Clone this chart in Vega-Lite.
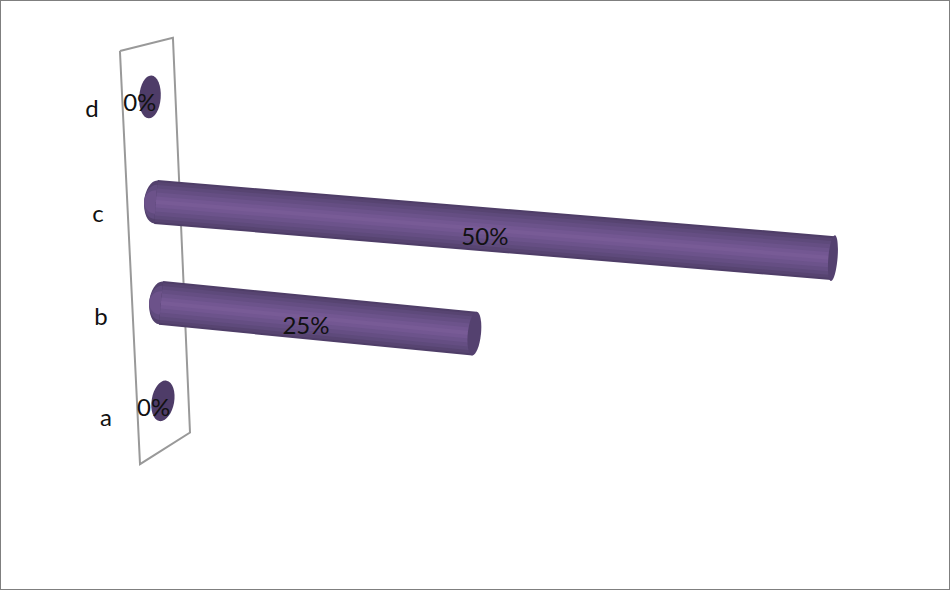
{
"$schema":"https://vega.github.io/schema/vega-lite/v6.json",
"width":950,"height":590,
"autosize":{"type":"fit","contains":"padding"},
"padding":0,
"background":"white",
"config":{"view":{"stroke":"#7f7f7f","strokeWidth":2}},
"datasets":{
"wall":[{"o":1,"x":-2.20,"y":4.48},{"o":2,"x":1.68,"y":4.61},{"o":3,"x":2.93,"y":0.74},{"o":4,"x":-0.73,"y":0.43},{"o":5,"x":-2.20,"y":4.48}],
"bars":[{"category":"c","value":50,"part":"start","x":0.44,"y":3.00},{"category":"c","value":50,"part":"end","x":50.00,"y":2.45},{"category":"b","value":25,"part":"start","x":0.81,"y":2.01},{"category":"b","value":25,"part":"end","x":23.75,"y":1.71}],
"discs":[{"category":"d","value":0,"x":0,"y":4.03},{"category":"a","value":0,"x":0.95,"y":1.05}],
"cats":[{"category":"d","x":-4.25,"y":3.90},{"category":"c","x":-3.81,"y":2.87},{"category":"b","x":-3.59,"y":1.86},{"category":"a","x":-3.22,"y":0.87}],
"pcts":[{"label":"50%","x":24.52,"y":2.65},{"label":"25%","x":11.42,"y":1.77},{"label":"0%","x":-0.75,"y":3.96},{"label":"0%","x":0.27,"y":0.97}]
},
"encoding":{
"x":{"field":"x","type":"quantitative","axis":null,"scale":{"domain":[-10.98,58.57],"nice":false,"zero":false}},
"y":{"field":"y","type":"quantitative","axis":null,"scale":{"domain":[-0.804,4.98],"nice":false,"zero":false}}
},
"layer":[
{"data":{"name":"wall"},"mark":{"type":"line","stroke":"#999999","strokeWidth":2},"encoding":{"order":{"field":"o"}}},
{"data":{"name":"discs"},"transform":[{"filter":"datum.category=='d'"}],"mark":{"type":"point","filled":true,"opacity":1,"size":1849,"fill":"#4e3c68","shape":"M0,-1 A0.5,1 0 1,1 0,1 A0.5,1 0 1,1 0,-1 Z","angle":4}},
{"data":{"name":"discs"},"transform":[{"filter":"datum.category=='a'"}],"mark":{"type":"point","filled":true,"opacity":1,"size":1681,"fill":"#4e3c68","shape":"M0,-1 A0.55,1 0 1,1 0,1 A0.55,1 0 1,1 0,-1 Z","angle":10}},
{"data":{"name":"bars"},"transform":[{"filter":"datum.part=='start'"}],"mark":{"type":"point","filled":true,"opacity":1,"size":1849,"fill":"#53416d","angle":5,"shape":"M0,-1 A0.55,1 0 1,1 0,1 A0.55,1 0 1,1 0,-1 Z"}},
{"data":{"name":"bars"},"transform":[{"filter":"datum.part=='start'"}],"mark":{"type":"point","filled":true,"opacity":1,"size":1849,"fill":"#604b7e","angle":5,"shape":"M0,-0.8 A0.55,0.8 0 1,1 0,0.8 A0.55,0.8 0 1,1 0,-0.8 Z"}},
{"data":{"name":"bars"},"transform":[{"filter":"datum.part=='start'"}],"mark":{"type":"point","filled":true,"opacity":1,"size":1849,"fill":"#6c528a","angle":5,"shape":"M0,-0.55 A0.55,0.55 0 1,1 0,0.55 A0.55,0.55 0 1,1 0,-0.55 Z"}},
{"data":{"name":"bars"},"mark":{"type":"line","stroke":"#4f3e68","strokeWidth":44,"strokeCap":"butt"},"encoding":{"detail":{"field":"category"}}},
{"data":{"name":"bars"},"mark":{"type":"line","stroke":"#574471","strokeWidth":40,"strokeCap":"butt"},"encoding":{"detail":{"field":"category"}}},
{"data":{"name":"bars"},"mark":{"type":"line","stroke":"#5e4a7b","strokeWidth":34,"strokeCap":"butt"},"encoding":{"detail":{"field":"category"}}},
{"data":{"name":"bars"},"mark":{"type":"line","stroke":"#654e83","strokeWidth":27,"strokeCap":"butt"},"encoding":{"detail":{"field":"category"}}},
{"data":{"name":"bars"},"mark":{"type":"line","stroke":"#6c538b","strokeWidth":19,"strokeCap":"butt"},"encoding":{"detail":{"field":"category"}}},
{"data":{"name":"bars"},"mark":{"type":"line","stroke":"#735792","strokeWidth":11,"strokeCap":"butt"},"encoding":{"detail":{"field":"category"}}},
{"data":{"name":"bars"},"mark":{"type":"line","stroke":"#785b96","strokeWidth":4,"strokeCap":"butt"},"encoding":{"detail":{"field":"category"}}},
{"data":{"name":"bars"},"transform":[{"filter":"datum.part=='end' && datum.category=='c'"}],"mark":{"type":"point","filled":true,"opacity":1,"size":2116,"fill":"#54416f","angle":5,"shape":"M0,-1 A0.2,1 0 1,1 0,1 A0.2,1 0 1,1 0,-1 Z"}},
{"data":{"name":"bars"},"transform":[{"filter":"datum.part=='end' && datum.category=='b'"}],"mark":{"type":"point","filled":true,"opacity":1,"size":1936,"fill":"#54416f","angle":6,"shape":"M0,-1 A0.3,1 0 1,1 0,1 A0.3,1 0 1,1 0,-1 Z"}},
{"data":{"name":"cats"},"mark":{"type":"text","font":"Lato","fontSize":24,"fill":"#111111","align":"center","baseline":"middle"},"encoding":{"text":{"field":"category"}}},
{"data":{"name":"pcts"},"mark":{"type":"text","font":"Lato","fontSize":24,"fill":"#111111","align":"center","baseline":"middle"},"encoding":{"text":{"field":"label"}}}
]
}
